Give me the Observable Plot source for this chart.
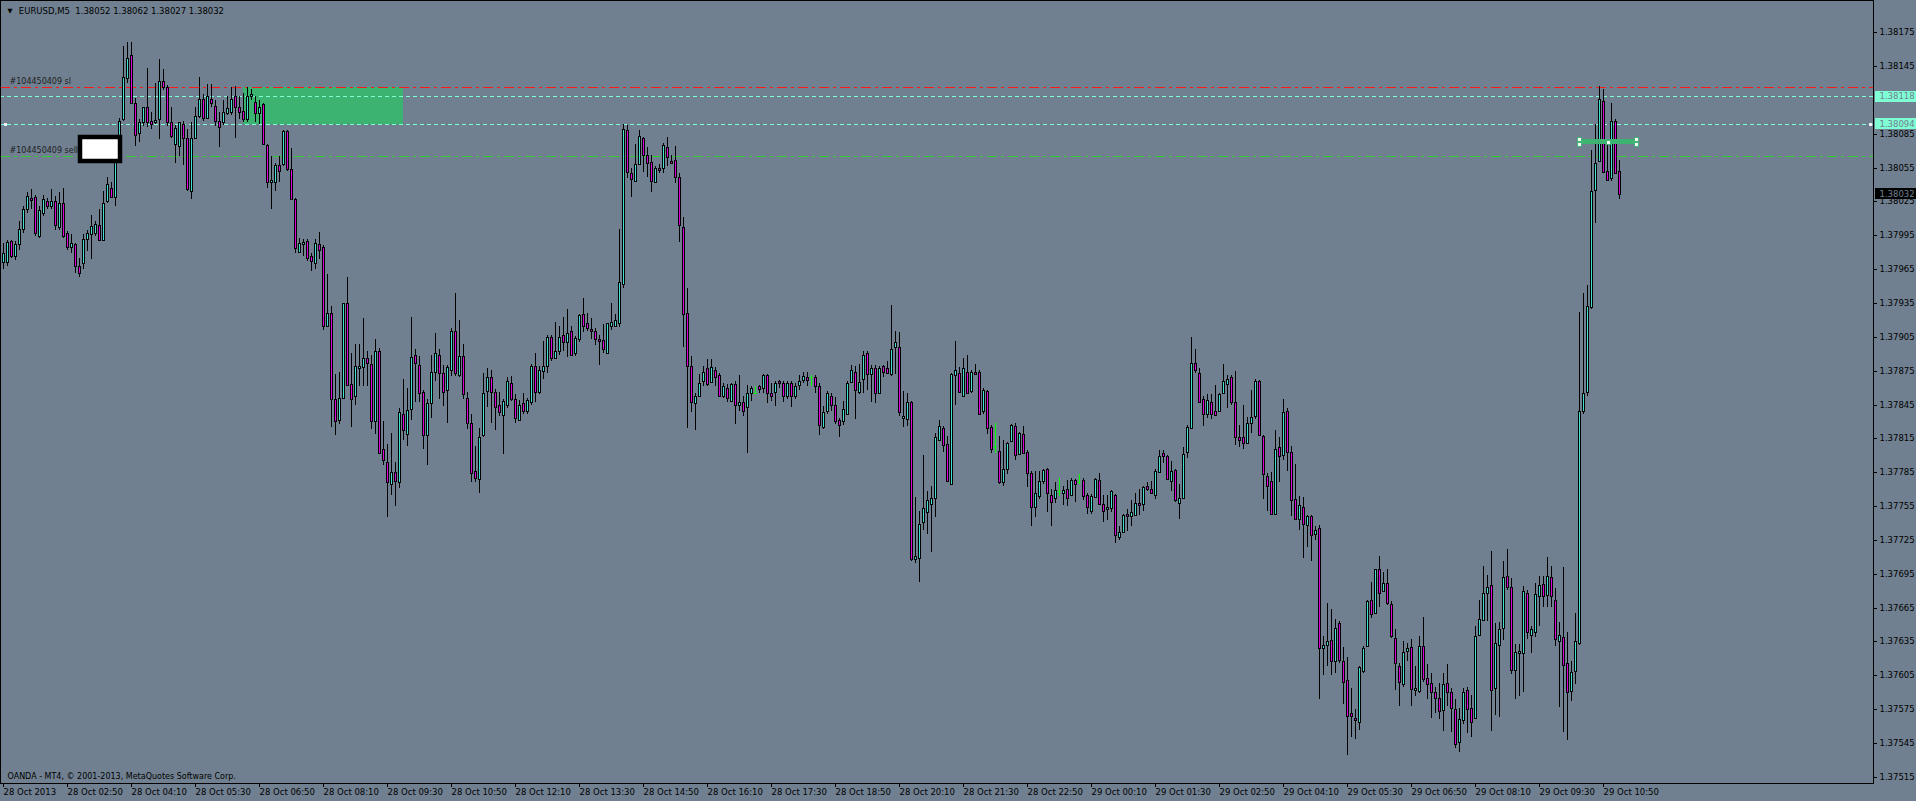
<!DOCTYPE html>
<html><head><meta charset="utf-8">
<script src="https://cdn.jsdelivr.net/npm/d3@7"></script>
<script src="https://cdn.jsdelivr.net/npm/@observablehq/plot@0.6"></script>
<style>html,body{margin:0;padding:0;background:#708090;overflow:hidden}#chart svg{display:block}</style>
</head><body><div id="chart"></div>
<script>
// EURUSD M5 candles, one value per bar (bar 0 = 28 Oct 01:30, step 5 min)
const open = [
1.37971,1.37971,1.37990,1.37977,1.37987,1.38001,1.38018,1.38028,1.38029,1.37994,
1.38015,1.38025,1.38021,1.38025,1.38002,1.38024,1.37997,1.37985,1.37987,1.37968,
1.37970,1.37992,1.37996,1.37997,1.38004,1.37991,1.38025,1.38037,1.38029,1.38060,
1.38098,1.38134,1.38155,1.38112,1.38086,1.38095,1.38109,1.38096,1.38095,1.38098,
1.38132,1.38126,1.38095,1.38076,1.38074,1.38094,1.38081,1.38034,1.38081,1.38101,
1.38116,1.38099,1.38116,1.38110,1.38096,1.38095,1.38103,1.38104,1.38118,1.38109,
1.38105,1.38098,1.38118,1.38113,1.38103,1.38111,1.38075,1.38042,1.38042,1.38057,
1.38058,1.38087,1.38054,1.38027,1.37980,1.37987,1.37990,1.37977,1.37970,1.37987,
1.37985,1.37915,1.37926,1.37850,1.37831,1.37851,1.37935,1.37863,1.37853,1.37877,
1.37878,1.37886,1.37881,1.37830,1.37892,1.37806,1.37794,1.37775,1.37785,1.37776,
1.37837,1.37819,1.37841,1.37889,1.37880,1.37856,1.37818,1.37846,1.37874,1.37889,
1.37873,1.37858,1.37876,1.37910,1.37871,1.37888,1.37851,1.37829,1.37786,1.37779,
1.37818,1.37857,1.37869,1.37856,1.37845,1.37836,1.37845,1.37864,1.37850,1.37831,
1.37846,1.37839,1.37847,1.37879,1.37856,1.37875,1.37879,1.37905,1.37886,1.37892,
1.37907,1.37900,1.37910,1.37891,1.37903,1.37925,1.37917,1.37912,1.37910,1.37903,
1.37902,1.37891,1.37915,1.37915,1.37917,1.37952,1.38088,1.38050,1.38043,1.38058,
1.38081,1.38066,1.38060,1.38042,1.38055,1.38055,1.38073,1.38061,1.38062,1.38047,
1.38002,1.37926,1.37879,1.37846,1.37853,1.37866,1.37877,1.37865,1.37876,1.37871,
1.37853,1.37860,1.37848,1.37863,1.37845,1.37847,1.37843,1.37855,1.37855,1.37861,
1.37860,1.37871,1.37855,1.37856,1.37866,1.37864,1.37853,1.37864,1.37853,1.37862,
1.37867,1.37869,1.37869,1.37869,1.37861,1.37825,1.37839,1.37853,1.37845,1.37831,
1.37830,1.37837,1.37865,1.37874,1.37856,1.37868,1.37891,1.37872,1.37877,1.37855,
1.37879,1.37877,1.37872,1.37896,1.37896,1.37833,1.37832,1.37847,1.37708,1.37709,
1.37741,1.37750,1.37757,1.37762,1.37814,1.37824,1.37810,1.37775,1.37871,1.37873,
1.37853,1.37874,1.37857,1.37874,1.37874,1.37839,1.37857,1.37825,1.37807,1.37804,
1.37776,1.37788,1.37813,1.37826,1.37801,1.37819,1.37803,1.37784,1.37754,1.37764,
1.37777,1.37788,1.37765,1.37762,1.37768,1.37767,1.37770,1.37765,1.37778,1.37776,
1.37778,1.37765,1.37751,1.37763,1.37778,1.37757,1.37752,1.37753,1.37765,1.37728,
1.37732,1.37748,1.37746,1.37747,1.37758,1.37757,1.37773,1.37770,1.37765,1.37785,
1.37802,1.37799,1.37777,1.37787,1.37758,1.37762,1.37803,1.37824,1.37882,1.37873,
1.37850,1.37837,1.37847,1.37839,1.37839,1.37855,1.37863,1.37869,1.37847,1.37816,
1.37816,1.37811,1.37829,1.37835,1.37866,1.37817,1.37782,1.37777,1.37748,1.37807,
1.37800,1.37839,1.37803,1.37761,1.37744,1.37754,1.37738,1.37746,1.37730,1.37736,
1.37629,1.37632,1.37636,1.37618,1.37651,1.37618,1.37601,1.37572,1.37567,1.37564,
1.37609,1.37631,1.37672,1.37660,1.37699,1.37680,1.37687,1.37668,1.37638,1.37613,
1.37597,1.37627,1.37630,1.37592,1.37591,1.37631,1.37603,1.37598,1.37590,1.37585,
1.37574,1.37598,1.37590,1.37575,1.37546,1.37565,1.37592,1.37576,1.37567,1.37641,
1.37654,1.37678,1.37685,1.37594,1.37632,1.37647,1.37693,1.37683,1.37610,1.37625,
1.37625,1.37678,1.37641,1.37643,1.37675,1.37686,1.37676,1.37692,1.37672,1.37635,
1.37639,1.37616,1.37591,1.37609,1.37634,1.37839,1.37856,1.37931,1.38035,1.38061,
1.38114,1.38052,1.38046,1.38096,1.38052];
const high = [
1.37988,1.37991,1.37991,1.37990,1.38008,1.38021,1.38033,1.38036,1.38031,1.38021,
1.38031,1.38028,1.38036,1.38030,1.38033,1.38037,1.37999,1.37996,1.37988,1.37975,
1.37996,1.38000,1.38013,1.38008,1.38018,1.38034,1.38047,1.38042,1.38067,1.38099,
1.38163,1.38166,1.38166,1.38117,1.38098,1.38109,1.38143,1.38104,1.38130,1.38151,
1.38142,1.38128,1.38109,1.38093,1.38095,1.38096,1.38089,1.38095,1.38109,1.38135,
1.38120,1.38129,1.38129,1.38115,1.38104,1.38115,1.38118,1.38126,1.38127,1.38118,
1.38121,1.38126,1.38125,1.38118,1.38115,1.38112,1.38076,1.38065,1.38059,1.38065,
1.38088,1.38088,1.38072,1.38028,1.37993,1.37992,1.37992,1.37979,1.37992,1.37998,
1.37986,1.37961,1.37932,1.37872,1.37874,1.37935,1.37958,1.37891,1.37899,1.37899,
1.37922,1.37892,1.37889,1.37903,1.37895,1.37830,1.37810,1.37820,1.37794,1.37842,
1.37868,1.37860,1.37923,1.37894,1.37888,1.37858,1.37850,1.37889,1.37908,1.37894,
1.37880,1.37880,1.37913,1.37944,1.37920,1.37899,1.37856,1.37837,1.37808,1.37824,
1.37873,1.37877,1.37876,1.37859,1.37856,1.37850,1.37869,1.37870,1.37854,1.37849,
1.37855,1.37851,1.37881,1.37891,1.37879,1.37901,1.37907,1.37907,1.37918,1.37915,
1.37923,1.37930,1.37915,1.37906,1.37925,1.37939,1.37926,1.37922,1.37913,1.37907,
1.37916,1.37917,1.37935,1.37925,1.38001,1.38094,1.38093,1.38055,1.38076,1.38088,
1.38082,1.38073,1.38066,1.38056,1.38058,1.38077,1.38082,1.38066,1.38074,1.38050,
1.38011,1.37948,1.37888,1.37855,1.37872,1.37879,1.37885,1.37885,1.37878,1.37873,
1.37864,1.37863,1.37864,1.37866,1.37871,1.37853,1.37862,1.37861,1.37861,1.37862,
1.37872,1.37872,1.37864,1.37866,1.37867,1.37866,1.37866,1.37866,1.37864,1.37871,
1.37874,1.37874,1.37871,1.37871,1.37864,1.37844,1.37857,1.37855,1.37852,1.37833,
1.37848,1.37866,1.37880,1.37879,1.37881,1.37892,1.37892,1.37880,1.37880,1.37879,
1.37880,1.37884,1.37933,1.37910,1.37909,1.37857,1.37855,1.37848,1.37763,1.37751,
1.37800,1.37768,1.37773,1.37820,1.37831,1.37826,1.37817,1.37873,1.37901,1.37878,
1.37886,1.37889,1.37876,1.37881,1.37876,1.37860,1.37858,1.37827,1.37829,1.37817,
1.37814,1.37812,1.37828,1.37829,1.37821,1.37826,1.37805,1.37786,1.37786,1.37786,
1.37788,1.37789,1.37770,1.37776,1.37780,1.37773,1.37778,1.37780,1.37779,1.37783,
1.37780,1.37767,1.37766,1.37780,1.37784,1.37765,1.37765,1.37769,1.37766,1.37737,
1.37748,1.37752,1.37760,1.37767,1.37770,1.37773,1.37776,1.37777,1.37788,1.37805,
1.37805,1.37800,1.37795,1.37788,1.37775,1.37807,1.37827,1.37905,1.37894,1.37877,
1.37853,1.37854,1.37854,1.37862,1.37855,1.37881,1.37871,1.37871,1.37875,1.37827,
1.37845,1.37834,1.37858,1.37868,1.37867,1.37818,1.37784,1.37785,1.37822,1.37816,
1.37850,1.37842,1.37808,1.37792,1.37764,1.37763,1.37747,1.37747,1.37737,1.37738,
1.37640,1.37669,1.37664,1.37655,1.37653,1.37630,1.37621,1.37594,1.37575,1.37613,
1.37631,1.37672,1.37688,1.37699,1.37711,1.37697,1.37699,1.37671,1.37646,1.37616,
1.37635,1.37634,1.37637,1.37613,1.37640,1.37657,1.37615,1.37607,1.37595,1.37598,
1.37607,1.37615,1.37594,1.37584,1.37576,1.37594,1.37595,1.37588,1.37649,1.37672,
1.37702,1.37694,1.37715,1.37651,1.37652,1.37706,1.37717,1.37691,1.37633,1.37633,
1.37684,1.37681,1.37649,1.37687,1.37693,1.37693,1.37710,1.37702,1.37682,1.37652,
1.37701,1.37643,1.37618,1.37660,1.37927,1.37944,1.37951,1.38071,1.38094,1.38127,
1.38125,1.38079,1.38112,1.38098,1.38062];
const low = [
1.37965,1.37968,1.37975,1.37973,1.37982,1.37997,1.38015,1.38018,1.37994,1.37993,
1.38012,1.38018,1.38018,1.38000,1.38000,1.37993,1.37982,1.37979,1.37962,1.37958,
1.37965,1.37981,1.37974,1.37994,1.37990,1.37990,1.38024,1.38028,1.38021,1.38059,
1.38096,1.38130,1.38111,1.38074,1.38078,1.38092,1.38091,1.38089,1.38094,1.38080,
1.38124,1.38092,1.38081,1.38059,1.38065,1.38057,1.38034,1.38027,1.38080,1.38099,
1.38096,1.38098,1.38109,1.38092,1.38073,1.38093,1.38102,1.38102,1.38081,1.38098,
1.38095,1.38095,1.38115,1.38095,1.38094,1.38075,1.38037,1.38018,1.38034,1.38042,
1.38056,1.38052,1.38026,1.37979,1.37979,1.37977,1.37972,1.37963,1.37965,1.37974,
1.37911,1.37914,1.37825,1.37818,1.37828,1.37850,1.37862,1.37825,1.37845,1.37861,
1.37861,1.37861,1.37823,1.37819,1.37802,1.37791,1.37745,1.37765,1.37755,1.37771,
1.37814,1.37808,1.37831,1.37847,1.37847,1.37806,1.37791,1.37833,1.37866,1.37850,
1.37844,1.37829,1.37870,1.37870,1.37869,1.37850,1.37823,1.37776,1.37776,1.37767,
1.37816,1.37843,1.37829,1.37822,1.37835,1.37801,1.37842,1.37848,1.37829,1.37830,
1.37837,1.37837,1.37845,1.37847,1.37854,1.37868,1.37873,1.37884,1.37885,1.37889,
1.37892,1.37887,1.37888,1.37888,1.37900,1.37909,1.37910,1.37903,1.37898,1.37880,
1.37891,1.37890,1.37911,1.37914,1.37914,1.37948,1.38046,1.38029,1.38042,1.38057,
1.38051,1.38047,1.38033,1.38041,1.38050,1.38050,1.38056,1.38058,1.38041,1.37989,
1.37896,1.37824,1.37838,1.37822,1.37852,1.37861,1.37861,1.37864,1.37861,1.37852,
1.37851,1.37847,1.37847,1.37828,1.37839,1.37835,1.37802,1.37848,1.37855,1.37855,
1.37855,1.37846,1.37848,1.37844,1.37860,1.37847,1.37850,1.37843,1.37850,1.37858,
1.37864,1.37861,1.37861,1.37855,1.37818,1.37823,1.37837,1.37839,1.37828,1.37816,
1.37827,1.37836,1.37864,1.37832,1.37854,1.37855,1.37858,1.37847,1.37846,1.37854,
1.37869,1.37872,1.37870,1.37872,1.37835,1.37825,1.37826,1.37706,1.37705,1.37688,
1.37734,1.37730,1.37714,1.37745,1.37813,1.37803,1.37776,1.37774,1.37845,1.37855,
1.37852,1.37855,1.37855,1.37872,1.37836,1.37837,1.37819,1.37802,1.37802,1.37775,
1.37773,1.37783,1.37813,1.37796,1.37800,1.37801,1.37772,1.37737,1.37745,1.37761,
1.37775,1.37750,1.37737,1.37758,1.37764,1.37756,1.37755,1.37764,1.37759,1.37775,
1.37760,1.37748,1.37748,1.37762,1.37756,1.37741,1.37743,1.37750,1.37722,1.37725,
1.37732,1.37733,1.37737,1.37746,1.37747,1.37751,1.37768,1.37766,1.37761,1.37785,
1.37793,1.37778,1.37768,1.37759,1.37744,1.37761,1.37798,1.37823,1.37873,1.37846,
1.37826,1.37833,1.37832,1.37835,1.37838,1.37854,1.37842,1.37845,1.37809,1.37807,
1.37806,1.37810,1.37820,1.37832,1.37817,1.37761,1.37751,1.37747,1.37747,1.37776,
1.37796,1.37786,1.37746,1.37744,1.37734,1.37709,1.37719,1.37706,1.37725,1.37584,
1.37605,1.37613,1.37605,1.37607,1.37616,1.37580,1.37534,1.37550,1.37549,1.37557,
1.37607,1.37630,1.37656,1.37659,1.37666,1.37679,1.37667,1.37638,1.37592,1.37578,
1.37595,1.37618,1.37578,1.37587,1.37589,1.37599,1.37584,1.37567,1.37572,1.37566,
1.37556,1.37578,1.37555,1.37541,1.37537,1.37562,1.37554,1.37550,1.37566,1.37640,
1.37653,1.37653,1.37556,1.37570,1.37568,1.37636,1.37681,1.37606,1.37584,1.37587,
1.37590,1.37637,1.37625,1.37639,1.37649,1.37666,1.37666,1.37666,1.37631,1.37577,
1.37555,1.37548,1.37582,1.37597,1.37632,1.37837,1.37853,1.37930,1.38006,1.38060,
1.38050,1.38043,1.38043,1.38049,1.38027];
const close = [
1.37979,1.37989,1.37977,1.37987,1.38001,1.38018,1.38030,1.38026,1.37997,1.38017,
1.38027,1.38021,1.38025,1.38004,1.38024,1.37994,1.37985,1.37988,1.37968,1.37962,
1.37992,1.37997,1.38003,1.38005,1.37991,1.38024,1.38040,1.38029,1.38060,1.38096,
1.38135,1.38152,1.38112,1.38084,1.38095,1.38109,1.38095,1.38094,1.38097,1.38132,
1.38126,1.38095,1.38083,1.38090,1.38095,1.38081,1.38036,1.38081,1.38101,1.38116,
1.38099,1.38118,1.38112,1.38096,1.38091,1.38104,1.38108,1.38116,1.38109,1.38104,
1.38098,1.38118,1.38120,1.38103,1.38109,1.38076,1.38042,1.38044,1.38057,1.38052,
1.38087,1.38054,1.38027,1.37984,1.37988,1.37989,1.37975,1.37972,1.37988,1.37982,
1.37915,1.37926,1.37850,1.37830,1.37851,1.37935,1.37862,1.37850,1.37879,1.37879,
1.37886,1.37882,1.37830,1.37892,1.37802,1.37796,1.37776,1.37785,1.37777,1.37838,
1.37822,1.37840,1.37887,1.37882,1.37855,1.37818,1.37846,1.37874,1.37891,1.37873,
1.37856,1.37878,1.37910,1.37873,1.37888,1.37854,1.37829,1.37784,1.37780,1.37816,
1.37855,1.37869,1.37856,1.37843,1.37838,1.37848,1.37866,1.37850,1.37833,1.37845,
1.37839,1.37849,1.37879,1.37856,1.37876,1.37879,1.37905,1.37886,1.37892,1.37905,
1.37900,1.37908,1.37889,1.37904,1.37924,1.37915,1.37913,1.37910,1.37903,1.37901,
1.37894,1.37917,1.37918,1.37920,1.37954,1.38089,1.38051,1.38045,1.38058,1.38083,
1.38066,1.38059,1.38043,1.38055,1.38053,1.38075,1.38064,1.38059,1.38047,1.38004,
1.37925,1.37879,1.37847,1.37853,1.37864,1.37874,1.37863,1.37878,1.37869,1.37853,
1.37861,1.37851,1.37863,1.37845,1.37847,1.37839,1.37855,1.37860,1.37855,1.37859,
1.37871,1.37855,1.37853,1.37864,1.37864,1.37853,1.37864,1.37853,1.37861,1.37866,
1.37870,1.37867,1.37869,1.37861,1.37827,1.37838,1.37855,1.37845,1.37830,1.37827,
1.37841,1.37864,1.37876,1.37858,1.37865,1.37889,1.37872,1.37877,1.37855,1.37877,
1.37874,1.37873,1.37894,1.37900,1.37838,1.37835,1.37847,1.37708,1.37711,1.37739,
1.37753,1.37760,1.37762,1.37816,1.37826,1.37809,1.37777,1.37872,1.37876,1.37856,
1.37877,1.37855,1.37874,1.37872,1.37837,1.37858,1.37824,1.37806,1.37807,1.37776,
1.37788,1.37811,1.37827,1.37800,1.37820,1.37802,1.37784,1.37754,1.37767,1.37777,
1.37787,1.37767,1.37759,1.37769,1.37768,1.37769,1.37762,1.37778,1.37775,1.37776,
1.37764,1.37754,1.37764,1.37779,1.37757,1.37751,1.37754,1.37768,1.37729,1.37732,
1.37747,1.37746,1.37750,1.37758,1.37756,1.37772,1.37770,1.37767,1.37786,1.37799,
1.37799,1.37779,1.37786,1.37760,1.37762,1.37801,1.37825,1.37882,1.37876,1.37847,
1.37837,1.37849,1.37837,1.37836,1.37854,1.37866,1.37868,1.37847,1.37816,1.37814,
1.37811,1.37829,1.37834,1.37866,1.37818,1.37783,1.37773,1.37748,1.37806,1.37799,
1.37838,1.37803,1.37760,1.37744,1.37756,1.37739,1.37746,1.37729,1.37734,1.37629,
1.37632,1.37635,1.37618,1.37647,1.37619,1.37599,1.37569,1.37569,1.37565,1.37612,
1.37629,1.37671,1.37659,1.37699,1.37678,1.37687,1.37669,1.37640,1.37616,1.37599,
1.37626,1.37629,1.37593,1.37594,1.37631,1.37602,1.37597,1.37590,1.37585,1.37573,
1.37597,1.37590,1.37576,1.37544,1.37566,1.37590,1.37575,1.37564,1.37640,1.37655,
1.37678,1.37683,1.37592,1.37634,1.37646,1.37692,1.37683,1.37610,1.37626,1.37627,
1.37680,1.37643,1.37646,1.37677,1.37685,1.37675,1.37693,1.37675,1.37637,1.37641,
1.37614,1.37590,1.37608,1.37635,1.37839,1.37855,1.37932,1.38034,1.38059,1.38116,
1.38051,1.38044,1.38096,1.38050,1.38032];

// bottom time axis: label text and the bar index it sits on
const timeLabels = ["28 Oct 2013","28 Oct 02:50","28 Oct 04:10","28 Oct 05:30","28 Oct 06:50","28 Oct 08:10","28 Oct 09:30","28 Oct 10:50","28 Oct 12:10","28 Oct 13:30","28 Oct 14:50","28 Oct 16:10","28 Oct 17:30","28 Oct 18:50","28 Oct 20:10","28 Oct 21:30","28 Oct 22:50","29 Oct 00:10","29 Oct 01:30","29 Oct 02:50","29 Oct 04:10","29 Oct 05:30","29 Oct 06:50","29 Oct 08:10","29 Oct 09:30","29 Oct 10:50"];
const timeTickBars = [0,16,32,48,64,80,96,112,128,144,160,176,192,208,224,240,256,272,288,304,320,336,352,368,384,400];
// right price axis (1.38115 is hidden behind the 1.38118 price tag, as in the reference)
const priceTicks = [1.38175,1.38145,1.38085,1.38055,1.38025,1.37995,1.37965,1.37935,1.37905,1.37875,1.37845,1.37815,1.37785,1.37755,1.37725,1.37695,1.37665,1.37635,1.37605,1.37575,1.37545,1.37515];

// texts
const symbolText = "EURUSD,M5";
const lastOHLC = "1.38052 1.38062 1.38027 1.38032";
const orderId = "#104450409";
const footerText = "OANDA - MT4, \u00a9 2001-2013, MetaQuotes Software Corp.";

// horizontal levels
const slPrice = 1.38126;
const askHighPrice = 1.38118;
const bidPrice = 1.38094;
const sellPrice = 1.38065;
const lastPrice = 1.38032;

// drawn objects (bar index range, price range)
const zoneBars = [60, 100];
const zonePrices = [1.38094, 1.38126];
const boxBars = [19.3, 29.2];
const boxPrices = [1.38061, 1.38082];
const tagBars = [394, 408.25];
const tagPrices = [1.38076, 1.38080];

const BG = "#708090", BULL = "#40E0D0", BEAR = "#DD00DD";

const bars = open.map((o, i) => ({i, o, h: high[i], l: low[i], c: close[i]}));
const bull = bars.filter(d => d.c > d.o);
const bear = bars.filter(d => d.c < d.o);
const solid = bars.filter(d => d.c !== d.o);
const doji = bars.filter(d => d.c === d.o);

const handles = [
  {x: tagBars[0], y: tagPrices[1]}, {x: tagBars[0], y: tagPrices[0]},
  {x: tagBars[1], y: tagPrices[1]}, {x: tagBars[1], y: tagPrices[0]},
  {x: (tagBars[0] + tagBars[1]) / 2, y: (tagPrices[0] + tagPrices[1]) / 2}
];
const hlAqua = [askHighPrice, bidPrice];

const chart = Plot.plot({
  width: 1916, height: 801,
  marginLeft: 0, marginRight: 43, marginTop: 0, marginBottom: 18,
  style: {background: BG, color: "#000", fontFamily: "'DejaVu Sans', sans-serif", fontSize: "8.5px", overflow: "visible"},
  x: {type: "linear", domain: [-0.75, 467.5], round: true, label: null},
  y: {type: "linear", domain: [1.375096, 1.382035], round: true, label: null},
  marks: [
    Plot.rect([{a: zoneBars[0], b: zoneBars[1], p: zonePrices[0], q: zonePrices[1]}], {x1: "a", x2: "b", y1: "p", y2: "q", fill: "#3CB371"}),
    Plot.ruleY([slPrice], {stroke: "#ff1a1a", strokeDasharray: "10,4,3,4"}),
    Plot.ruleY(hlAqua, {stroke: "#7FFFD4", strokeDasharray: "4,3"}),
    Plot.ruleY([sellPrice], {stroke: "#32CD32", strokeDasharray: "10,4,3,4"}),
    Plot.text([{x: 1.55, y: slPrice, t: orderId + " sl"}], {x: "x", y: "y", text: "t", textAnchor: "start", lineAnchor: "middle", dy: -5.6, fontSize: 8, fill: "#1e1e1e"}),
    Plot.text([{x: 1.55, y: sellPrice, t: orderId + " sell"}], {x: "x", y: "y", text: "t", textAnchor: "start", lineAnchor: "middle", dy: -5.6, fontSize: 8, fill: "#1e1e1e"}),
    Plot.ruleX(solid, {x: "i", y1: "l", y2: "h", stroke: "#000"}),
    Plot.rect(bull, {x1: d => d.i - 0.25, x2: d => d.i + 0.25, y1: "o", y2: "c", fill: BULL, stroke: "#000", dx: 0.5, dy: 0.5}),
    Plot.rect(bear, {x1: d => d.i - 0.25, x2: d => d.i + 0.25, y1: "o", y2: "c", fill: BEAR, stroke: "#000", dx: 0.5, dy: 0.5}),
    Plot.ruleX(doji, {x: "i", y1: "l", y2: "h", stroke: "#00FF00"}),
    Plot.ruleY(doji, {y: "c", x1: d => d.i - 0.25, x2: d => d.i + 0.5, stroke: "#00FF00", dx: -0.5}),
    Plot.rect([{a: boxBars[0], b: boxBars[1], p: boxPrices[0], q: boxPrices[1]}], {x1: "a", x2: "b", y1: "p", y2: "q", fill: "#fff", stroke: "#000", strokeWidth: 4.5}),
    Plot.rect([{a: tagBars[0], b: tagBars[1], p: tagPrices[0], q: tagPrices[1]}], {x1: "a", x2: "b", y1: "p", y2: "q", fill: "#3CB371"}),
    Plot.dot(handles, {x: "x", y: "y", symbol: "square", r: 2.2, fill: "#fff", stroke: "#3CB371", strokeWidth: 1}),
    Plot.dot([{x: 0.5, y: bidPrice}, {x: 466.75, y: bidPrice}], {x: "x", y: "y", symbol: "square", r: 1.6, fill: "#fff"}),
    Plot.text([symbolText + "\u00a0\u00a0" + lastOHLC], {frameAnchor: "top-left", text: d => d, dx: 18.3, dy: 10.7, lineAnchor: "middle", textAnchor: "start", fill: "#000"}),
    Plot.text(["\u25BC"], {frameAnchor: "top-left", text: d => d, dx: 9.5, dy: 10.5, lineAnchor: "middle", textAnchor: "middle", fontSize: 6.5, fill: "#000"}),
    Plot.text([footerText], {frameAnchor: "bottom-left", text: d => d, dx: 7, dy: -7, lineAnchor: "middle", textAnchor: "start", fontSize: 8, fill: "#000"}),
    Plot.frame({stroke: "#000"}),
    Plot.axisY(priceTicks, {anchor: "right", tickSize: 3, tickPadding: 3, tickFormat: d => d.toFixed(5), label: null, fill: "#000", stroke: "#000"}),
    Plot.axisX(timeTickBars, {anchor: "bottom", tickSize: 4, tickPadding: 1, tickFormat: d => timeLabels[timeTickBars.indexOf(d)], textAnchor: "start", label: null, fill: "#000", stroke: "#000"}),
    Plot.rect(hlAqua, {x1: 468, x2: 478.5, y1: d => d - 0.000047, y2: d => d + 0.000047, fill: "#7FFFD4"}),
    Plot.text(hlAqua, {x: 469, y: d => d, text: d => d.toFixed(5), textAnchor: "start", lineAnchor: "middle", fill: BG}),
    Plot.rect([lastPrice], {x1: 468, x2: 478.5, y1: d => d - 0.000049, y2: d => d + 0.000049, fill: "#000"}),
    Plot.text([lastPrice], {x: 469, y: d => d, text: d => d.toFixed(5), textAnchor: "start", lineAnchor: "middle", fill: BG})
  ]
});
document.getElementById("chart").appendChild(chart);
</script>
</body></html>
